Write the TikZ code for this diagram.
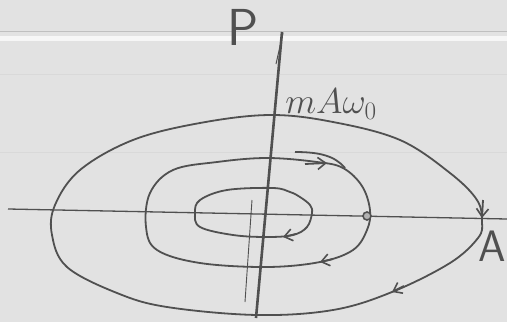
\documentclass[tikz,border=0pt]{standalone}
\usepackage{fix-cm}
\usetikzlibrary{arrows.meta}
\definecolor{paper}{RGB}{226,226,226}
\definecolor{ink}{RGB}{80,80,80}
\begin{document}
\begin{tikzpicture}[x=1pt,y=-1pt,
  loop/.style={draw=ink,line width=1.8pt,line join=round},
  axis/.style={draw=ink,line width=1.3pt},
  tip/.style={draw=ink,line width=1.8pt,-{Straight Barb[length=8pt,width=12pt,line width=1.6pt]}},
  lbl/.style={text=ink,inner sep=0pt}]
\fill[paper] (0,0) rectangle (507,322);
\useasboundingbox (0,0) rectangle (507,322);
\fill[white!70!paper] (0,36) rectangle (507,41);
\draw[gray!50,line width=0.8pt] (0,31) -- (507,31);
\draw[gray!30,line width=0.6pt] (0,74) -- (507,74);
\draw[gray!30,line width=0.6pt] (0,152) -- (507,152);
% axes
\coordinate (xl) at (8,209);
\coordinate (xr) at (507,219);
\coordinate (pt) at (282,32);
\coordinate (pb) at (256,318);
\draw[axis] (xl) -- (xr);
\draw[draw=ink,line width=2.6pt] (pt) -- (pb);
\draw[draw=ink,line width=1pt] (283,33) -- (276,64);
\draw[draw=ink,line width=0.9pt] (252,200) -- (245,302);
% outer loop
\draw[loop] plot[smooth cycle,tension=0.6] coordinates {
 (482,222) (477,200) (450,173) (400,140) (333,122) (270,115) (200,123)
 (133,140) (80,170) (55,205) (52,235) (67,267) (117,293) (167,307)
 (257,315) (333,310) (392,292) (450,263) (478,238)};
% middle loop
\draw[loop] plot[smooth cycle,tension=0.6] coordinates {
 (370,210) (367,230) (353,250) (320,262) (267,267) (200,263) (157,250)
 (146,227) (150,193) (173,170) (217,162) (267,158) (317,162) (343,168) (362,186)};
\draw[loop] (295,152) .. controls (320,152) and (335,156) .. (345,168);
% inner loop
\draw[loop] plot[smooth cycle,tension=0.6] coordinates {
 (312,213) (307,227) (293,235) (267,237) (233,235) (200,227) (195,213)
 (200,200) (227,190) (273,188) (290,192) (300,197) (310,205)};
% dot on middle loop
\draw[draw=ink,fill=gray!60,line width=1.6pt] (367,216) circle (4pt);
% arrowheads
\draw[tip] (404,286) -- (392,292);
\draw[tip] (305,164) -- (327,163);
\draw[tip] (333,259) -- (320,262);
\draw[tip] (296,234) -- (283,237);
\draw[tip] (483,200) -- (482,218);
% labels
\node[lbl,font=\sffamily\fontsize{52}{52}\selectfont] (P) at (243,27) {P};
\node[lbl,font=\fontsize{36}{36}\selectfont] (mA) at (331,104) {$mA\omega_0$};
\node[lbl,font=\sffamily\fontsize{44}{44}\selectfont] (A) at (492,246) {A};
\end{tikzpicture}
\end{document}
